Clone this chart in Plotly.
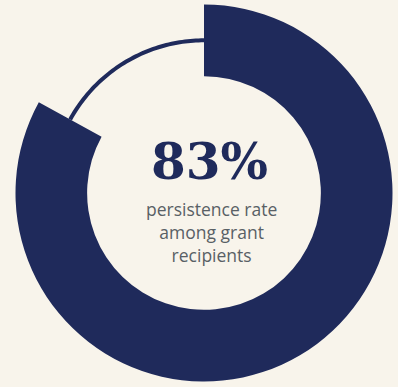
import plotly.graph_objects as go

labels = ["Persisted", "Did not persist"]
values = [83, 17]
headline = "83%"
caption_lines = ["persistence rate", "among grant", "recipients"]

NAVY = "#1f2a5b"
BG = "#f8f4eb"
GRAY = "#596065"

W, H = 398, 387
cx, cy, R = 204, 193, 188.5
hole = 0.62
dom_x = [(cx - R) / W, (cx + R) / W]
dom_y = [1 - (cy + R) / H, 1 - (cy - R) / H]

fig = go.Figure()
fig.add_trace(go.Pie(
    labels=labels, values=values, hole=hole, sort=False, direction="clockwise",
    rotation=0, marker=dict(colors=[NAVY, "rgba(0,0,0,0)"], line=dict(width=0)),
    textinfo="none", hoverinfo="label+value", showlegend=False,
    domain=dict(x=dom_x, y=dom_y),
))

# thin arc for the remaining share, drawn on a polar axis aligned with the pie
total = sum(values)
start = values[0] / total * 360
n = 60
thetas = [start + (360 - start) * i / n for i in range(n + 1)]
fig.add_trace(go.Scatterpolar(
    r=[(1 + hole) / 2] * len(thetas), theta=thetas, mode="lines",
    line=dict(color=NAVY, width=4), hoverinfo="skip", showlegend=False,
))

annotations = [
    dict(text=f"<b>{headline}</b>", x=(cx + 5) / W, y=1 - 161 / H, xref="paper", yref="paper",
         showarrow=False, font=dict(family="DejaVu Serif", size=50, color=NAVY),
         xanchor="center", yanchor="middle"),
    dict(text="<br>".join(caption_lines), x=(cx + 7) / W, y=1 - 231.5 / H,
         xref="paper", yref="paper", showarrow=False,
         font=dict(family="Open Sans", size=17.5, color=GRAY),
         xanchor="center", yanchor="middle", align="center"),
]

fig.update_layout(
    width=W, height=H, margin=dict(l=0, r=0, t=0, b=0),
    paper_bgcolor=BG, plot_bgcolor=BG,
    polar=dict(
        domain=dict(x=dom_x, y=dom_y), bgcolor="rgba(0,0,0,0)",
        radialaxis=dict(range=[0, 1], visible=False),
        angularaxis=dict(rotation=90, direction="clockwise", visible=False),
    ),
    annotations=annotations,
)

fig.write_html("out.html")
